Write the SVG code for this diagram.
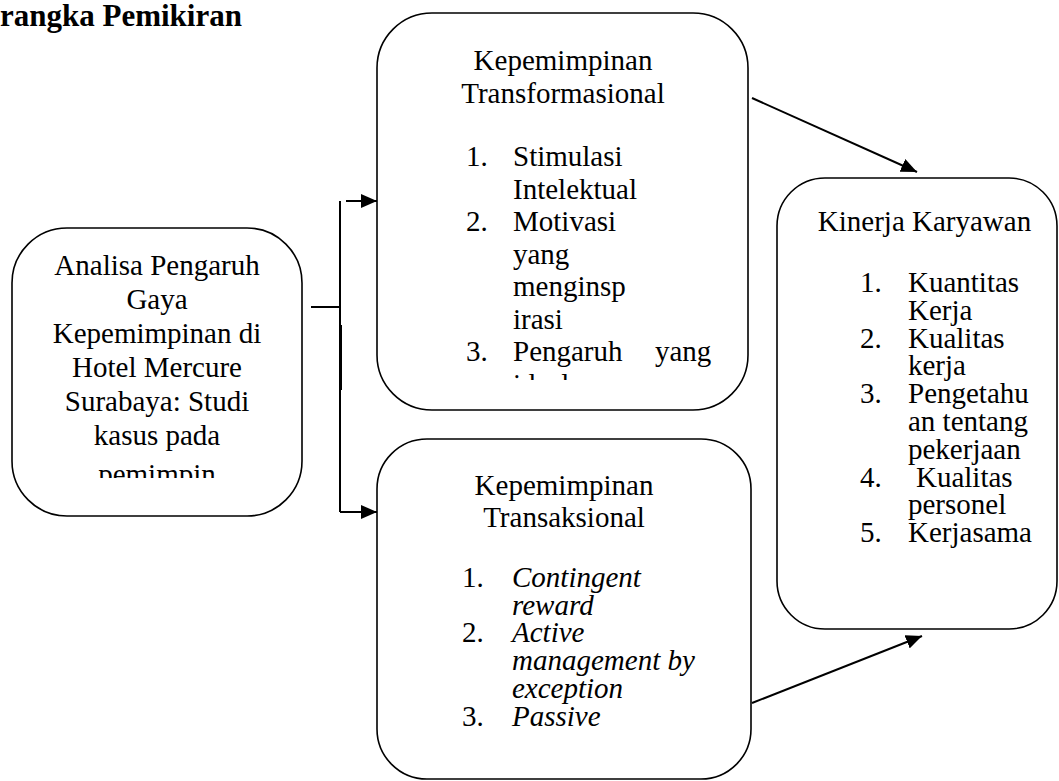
<svg xmlns="http://www.w3.org/2000/svg" width="1059" height="781" viewBox="0 0 1059 781">
<style>
.box{fill:#fff;stroke:#000;stroke-width:1.6}
.t{font-family:"Liberation Serif","Times New Roman",serif;font-size:29px;fill:#000}
.c{text-anchor:middle}
.i{font-style:italic}
.ln{stroke:#000;stroke-width:2;fill:none}
.title{font-family:"Liberation Serif","Times New Roman",serif;font-size:31px;font-weight:bold;fill:#000}
</style>
<defs>
<marker id="ah" markerUnits="userSpaceOnUse" markerWidth="18" markerHeight="14" refX="16" refY="7" orient="auto">
<path d="M0,0 L16,7 L0,14 Z" fill="#000"/>
</marker>
<clipPath id="clip1"><rect x="12" y="228" width="290" height="250"/></clipPath>
<clipPath id="clip2"><rect x="377" y="13" width="371" height="367"/></clipPath>
</defs>
<rect width="1059" height="781" fill="#fff"/>
<text class="title" x="0" y="26">rangka Pemikiran</text>

<g id="connectors">
<line class="ln" x1="311" y1="307" x2="340" y2="307" stroke-width="1.5"/>
<line class="ln" x1="340" y1="201" x2="340" y2="512" stroke-width="1.5"/>
<line class="ln" x1="341" y1="325" x2="341" y2="390" stroke-width="3"/>
<line class="ln" x1="346" y1="201" x2="377" y2="201" marker-end="url(#ah)"/>
<line class="ln" x1="340" y1="512" x2="377" y2="512" marker-end="url(#ah)"/>
<line class="ln" x1="752" y1="98" x2="917" y2="172" marker-end="url(#ah)"/>
<line class="ln" x1="752" y1="703" x2="922" y2="636" marker-end="url(#ah)"/>
</g>

<g id="node-analisa">
<rect class="box" x="12" y="228" width="290" height="288" rx="55" ry="55"/>
<g clip-path="url(#clip1)">
<text class="t c" x="157" y="275">Analisa Pengaruh</text>
<text class="t c" x="157" y="309">Gaya</text>
<text class="t c" x="157" y="343">Kepemimpinan di</text>
<text class="t c" x="157" y="377">Hotel Mercure</text>
<text class="t c" x="157" y="411">Surabaya: Studi</text>
<text class="t c" x="157" y="445">kasus pada</text>
<text class="t c" x="157" y="484">pemimpin</text>
</g>
</g>

<g id="node-transformasional">
<rect class="box" x="377" y="13" width="371" height="397" rx="55" ry="55"/>
<g clip-path="url(#clip2)">
<text class="t c" x="563" y="70">Kepemimpinan</text>
<text class="t c" x="563" y="103">Transformasional</text>
<text class="t" x="466" y="166">1.</text><text class="t" x="513" y="166">Stimulasi</text>
<text class="t" x="513" y="198.5">Intelektual</text>
<text class="t" x="466" y="231">2.</text><text class="t" x="513" y="231">Motivasi</text>
<text class="t" x="513" y="263.5">yang</text>
<text class="t" x="513" y="296">menginsp</text>
<text class="t" x="513" y="328.5">irasi</text>
<text class="t" x="466" y="361">3.</text><text class="t" x="513" y="361">Pengaruh</text><text class="t" x="655" y="361">yang</text>
<text class="t" x="513" y="393.5">ideal</text>
</g>
</g>

<g id="node-transaksional">
<rect class="box" x="377" y="439" width="374" height="340" rx="50" ry="50"/>
<text class="t c" x="564" y="495">Kepemimpinan</text>
<text class="t c" x="564" y="527">Transaksional</text>
<text class="t" x="462" y="587">1.</text><text class="t i" x="512" y="587">Contingent</text>
<text class="t i" x="512" y="614.7">reward</text>
<text class="t" x="462" y="642.4">2.</text><text class="t i" x="512" y="642.4">Active</text>
<text class="t i" x="512" y="670.1">management by</text>
<text class="t i" x="512" y="697.8">exception</text>
<text class="t" x="462" y="725.5">3.</text><text class="t i" x="512" y="725.5">Passive</text>
</g>

<g id="node-kinerja">
<rect class="box" x="777" y="178" width="280" height="451" rx="48" ry="48"/>
<text class="t c" x="924.5" y="231">Kinerja Karyawan</text>
<text class="t" x="860" y="292">1.</text><text class="t" x="908" y="292">Kuantitas</text>
<text class="t" x="908" y="319.8">Kerja</text>
<text class="t" x="860" y="347.6">2.</text><text class="t" x="908" y="347.6">Kualitas</text>
<text class="t" x="908" y="375.4">kerja</text>
<text class="t" x="860" y="403.2">3.</text><text class="t" x="908" y="403.2">Pengetahu</text>
<text class="t" x="908" y="431">an tentang</text>
<text class="t" x="908" y="458.8">pekerjaan</text>
<text class="t" x="860" y="486.6">4.</text><text class="t" x="916" y="486.6">Kualitas</text>
<text class="t" x="908" y="514.4">personel</text>
<text class="t" x="860" y="542.2">5.</text><text class="t" x="908" y="542.2">Kerjasama</text>
</g>
</svg>
